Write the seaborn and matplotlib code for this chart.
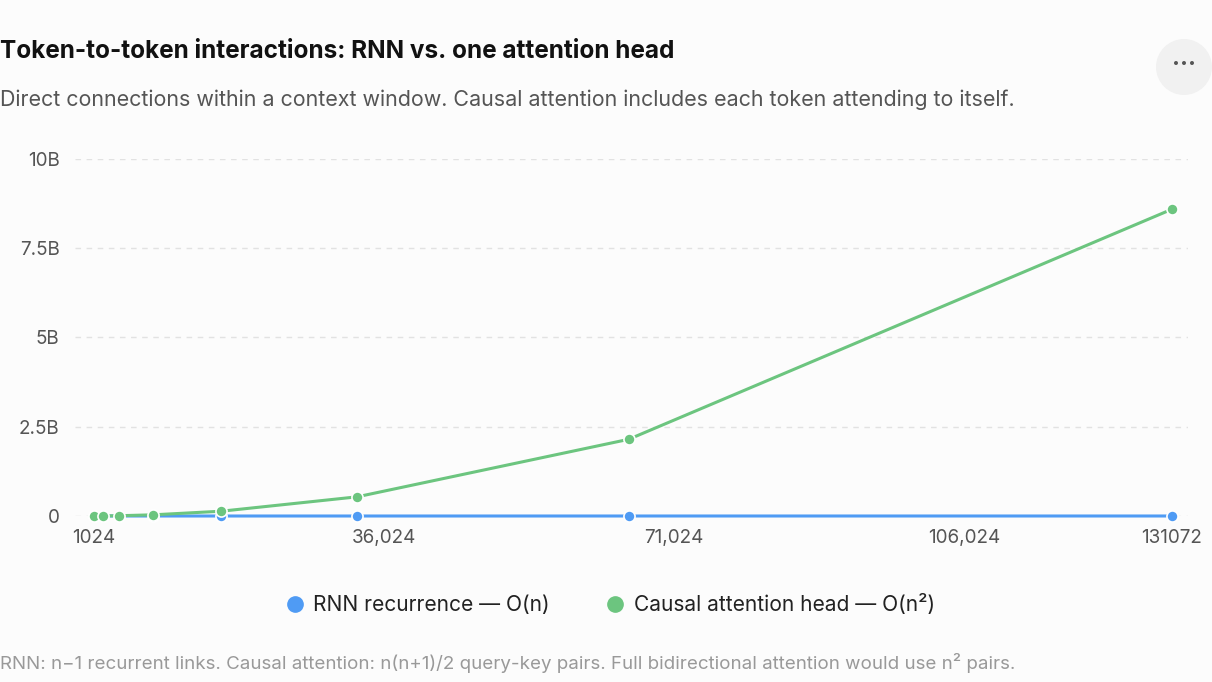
import pandas as pd
import matplotlib.pyplot as plt
import seaborn as sns
from matplotlib.lines import Line2D
from matplotlib.patches import Circle

# datos
context = [1024, 2048, 4096, 8192, 16384, 32768, 65536, 131072]
rnn_links = [1023, 2047, 4095, 8191, 16383, 32767, 65535, 131071]
attn_pairs = [524800, 2098176, 8390656, 33558528, 134225920, 536887296,
              2147516416, 8590000128]
series_names = ["RNN recurrence \u2014 O(n)", "Causal attention head \u2014 O(n\u00b2)"]
x_ticks = [1024, 36024, 71024, 106024, 131072]
x_tick_labels = ["1024", "36,024", "71,024", "106,024", "131072"]
y_ticks = [0, 2.5e9, 5e9, 7.5e9, 10e9]
y_tick_labels = ["0", "2.5B", "5B", "7.5B", "10B"]

colors = ["#4f9bf4", "#6cc57f"]
bg = "#fcfcfc"

data = pd.DataFrame({
    "n": context + context,
    "valor": rnn_links + attn_pairs,
    "serie": [series_names[0]] * len(context) + [series_names[1]] * len(context),
})

sns.set_theme(style="white")
plt.rcParams["font.family"] = ["Inter", "DejaVu Sans"]

fig = plt.figure(figsize=(12.12, 6.82), dpi=100, facecolor=bg)
ax = fig.add_axes([0.0619, 0.2434, 0.9181, 0.5235], facecolor=bg)

sns.lineplot(data=data, x="n", y="valor", hue="serie", palette=colors,
             marker="o", markersize=8, markeredgecolor="white", markeredgewidth=1.2,
             linewidth=2.2, ax=ax, legend=False, clip_on=False)

ax.set_xlim(-1268, 133002)
ax.set_ylim(0, 10e9)
ax.set_xticks(x_ticks)
ax.set_xticklabels(x_tick_labels)
ax.set_yticks(y_ticks)
ax.set_yticklabels(y_tick_labels)
ax.tick_params(axis="both", length=0, labelsize=13.6, labelcolor="#555555")
ax.tick_params(axis="x", pad=9)
ax.tick_params(axis="y", pad=11)
ax.set_xlabel("")
ax.set_ylabel("")
ax.grid(axis="y", color="#e2e2e2", linestyle=(0, (4, 4)), linewidth=1)
ax.set_axisbelow(True)
for s in ax.spines.values():
    s.set_visible(False)

# titulo y subtitulo
fig.text(0.0, 1 - 51 / 682, "Token-to-token interactions: RNN vs. one attention head",
         fontsize=17.5, fontweight="bold", color="#111111", ha="left", va="center")
fig.text(0.0, 1 - 100 / 682, "Direct connections within a context window. Causal attention includes each token attending to itself.",
         fontsize=15.45, color="#555555", ha="left", va="center")

# boton de menu (circulo en pulgadas para que sea redondo)
fig.patches.append(Circle((11.84, 6.82 - 0.67), 0.28, transform=fig.dpi_scale_trans,
                          facecolor="#f1f1f1", edgecolor="none"))
fig.text(1184 / 1212, 1 - 65 / 682, "\u00b7\u00b7\u00b7", fontsize=17, color="#555555",
         ha="center", va="center", fontweight="bold")

# leyenda
handles = [Line2D([], [], marker="o", linestyle="none", markersize=11,
                  markerfacecolor=c, markeredgecolor=c) for c in colors]
fig.legend(handles, series_names, loc="center", bbox_to_anchor=(0.503, 1 - 605 / 682),
           ncol=2, frameon=False, fontsize=15.1, handlelength=1.0, handletextpad=0.4,
           columnspacing=2.6, labelcolor="#222222")

# nota al pie
fig.text(0.0, 1 - 663 / 682,
         "RNN: n\u22121 recurrent links. Causal attention: n(n+1)/2 query-key pairs. Full bidirectional attention would use n\u00b2 pairs.",
         fontsize=13.5, color="#999999", ha="left", va="center")

fig.savefig("out.png", dpi=100, facecolor=bg)
